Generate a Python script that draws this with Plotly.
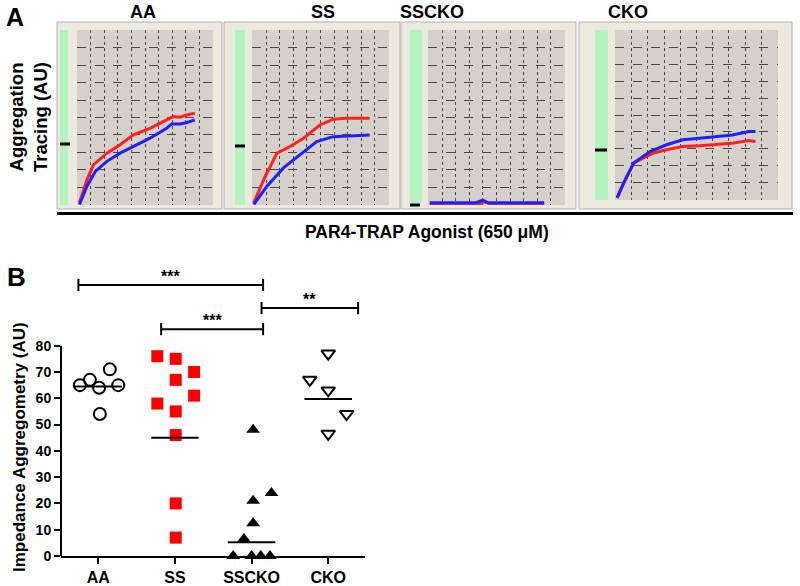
import plotly.graph_objects as go

W, H = 800, 586
FONT = "Liberation Sans, Arial, sans-serif"


def px(x):
    return x / W


def py(y):
    return 1 - y / H


# ---------------- Panel A data (10 time divisions x 10 aggregation divisions) ----------------
a_titles = ["AA", "SS", "SSCKO", "CKO"]

aa_red_t = [0.15, 0.71, 1.2, 2.18, 3.16, 4.14, 5.37, 6.6, 7.08, 7.57, 8.06, 8.68]
aa_red_v = [0.1, 1.43, 2.29, 2.95, 3.43, 4.0, 4.38, 4.86, 5.05, 5.01, 5.14, 5.24]
aa_blue_t = [0.15, 0.71, 1.32, 2.18, 3.16, 4.14, 5.37, 6.6, 6.96, 7.57, 8.06, 8.68]
aa_blue_v = [0.0, 1.05, 1.9, 2.48, 2.95, 3.33, 3.81, 4.38, 4.63, 4.63, 4.7, 4.86]

ss_red_t = [0.1, 0.83, 1.8, 2.77, 3.75, 4.96, 5.94, 6.91, 8.61]
ss_red_v = [0.1, 1.43, 2.95, 3.33, 3.81, 4.57, 4.9, 4.95, 4.95]
ss_blue_t = [0.1, 1.07, 2.28, 3.5, 4.72, 5.94, 7.15, 8.61]
ss_blue_v = [0.0, 1.05, 2.1, 2.86, 3.62, 3.9, 3.94, 4.0]

sscko_red_t = [0.1, 3.8, 4.1, 4.5, 8.5]
sscko_red_v = [0.05, 0.05, 0.15, 0.05, 0.05]
sscko_blue_t = [0.1, 3.5, 4.0, 4.4, 8.5]
sscko_blue_v = [0.1, 0.1, 0.25, 0.1, 0.1]

cko_red_t = [0.1, 0.51, 1.12, 1.52, 2.34, 3.15, 4.16, 5.18, 6.2, 7.21, 8.23, 8.64]
cko_red_v = [0.1, 0.98, 2.16, 2.35, 2.75, 2.94, 3.14, 3.18, 3.24, 3.33, 3.49, 3.43]
cko_blue_t = [0.1, 0.51, 1.12, 2.13, 3.15, 4.16, 5.18, 6.2, 7.21, 8.23, 8.64]
cko_blue_v = [0.1, 0.98, 2.16, 2.84, 3.24, 3.53, 3.63, 3.73, 3.82, 4.02, 4.02]

a_red = [(aa_red_t, aa_red_v), (ss_red_t, ss_red_v), (sscko_red_t, sscko_red_v), (cko_red_t, cko_red_v)]
a_blue = [(aa_blue_t, aa_blue_v), (ss_blue_t, ss_blue_v), (sscko_blue_t, sscko_blue_v), (cko_blue_t, cko_blue_v)]

# ---------------- Panel B data ----------------
b_categories = ["AA", "SS", "SSCKO", "CKO"]
aa_values = [65, 67, 64, 71, 65, 54]
aa_jitter = [-0.24, -0.11, 0.01, 0.15, 0.26, 0.02]
ss_values = [76, 75, 70, 67, 61, 58, 55, 46, 20, 7]
ss_jitter = [-0.23, 0.01, 0.25, 0.01, 0.25, -0.23, 0.01, 0.01, 0.01, 0.01]
sscko_values = [48, 24, 21, 12.5, 6.5, 0, 0, 0, 0]
sscko_jitter = [0.02, 0.26, 0.02, 0.02, -0.1, -0.24, 0.0, 0.12, 0.24]
cko_values = [77, 67, 63, 54, 46.5]
cko_jitter = [0.0, -0.24, 0.0, 0.24, 0.0]
b_medians = [64.5, 45, 5.2, 59.7]
y_ticks = [0, 10, 20, 30, 40, 50, 60, 70, 80]

bracket_x0 = [-0.26, 0.82, 2.13]
bracket_x1 = [2.15, 2.15, 3.39]
bracket_level = [103.1, 86.3, 94.3]
bracket_label = ["***", "***", "**"]

# ---------------- layout geometry (pixels) ----------------
grid_px = [(77, 213, 30, 205), (252, 389, 30, 205), (428, 565, 30, 205), (615, 778, 30, 200)]
panel_px = [(57, 222), (224, 400), (401, 576), (579, 792)]
green_px = [(60, 68, 30, 205), (235, 245, 30, 205), (410, 422, 30, 203), (595, 608, 30, 200)]
dash_px = [(60, 70, 144), (235, 245, 146), (410, 420, 205), (595, 607, 150)]
title_x_px = [143, 323, 432, 628]

fig = go.Figure()
shapes = []
annotations = []
RED = "#ff1f1f"
BLUE = "#1f1fff"


def label(text, x, y, size, angle=0):
    return dict(text="<b>%s</b>" % text, xref="paper", yref="paper", x=px(x), y=py(y),
                xanchor="center", yanchor="middle", showarrow=False, textangle=angle,
                font=dict(size=size, color="black", family=FONT))


for i in range(4):
    n = "" if i == 0 else str(i + 1)
    xa, ya = "x" + n, "y" + n
    gx0, gx1, gy0, gy1 = grid_px[i]
    fig.update_layout(**{
        "xaxis" + n: dict(domain=[px(gx0), px(gx1)], range=[-0.03, 10.03], dtick=1, tick0=0,
                          showticklabels=False, ticks="", showgrid=True, gridcolor="#4a4a4a",
                          gridwidth=1, griddash="dot", zeroline=False, showline=False,
                          anchor=ya, fixedrange=True, automargin=False),
        "yaxis" + n: dict(domain=[py(gy1), py(gy0)], range=[-0.03, 10.03], dtick=1, tick0=0,
                          showticklabels=False, ticks="", showgrid=True, gridcolor="#4a4a4a",
                          gridwidth=1, griddash="dash", zeroline=False, showline=False,
                          anchor=xa, fixedrange=True, automargin=False),
    })
    p0, p1 = panel_px[i]
    shapes.append(dict(type="rect", xref="paper", yref="paper", x0=px(p0), x1=px(p1),
                       y0=py(209), y1=py(22), fillcolor="#ece9de", line=dict(color="#b5b3ab", width=1),
                       layer="below"))
    g0, g1, gg0, gg1 = green_px[i]
    shapes.append(dict(type="rect", xref="paper", yref="paper", x0=px(g0), x1=px(g1),
                       y0=py(gg1), y1=py(gg0), fillcolor="#b3f3c0", line=dict(width=0), layer="below"))
    shapes.append(dict(type="rect", xref="paper", yref="paper", x0=px(gx0), x1=px(gx1),
                       y0=py(gy1), y1=py(gy0), fillcolor="#d5d1ca", line=dict(width=0), layer="below"))
    d0, d1, dy = dash_px[i]
    shapes.append(dict(type="line", xref="paper", yref="paper", x0=px(d0), x1=px(d1),
                       y0=py(dy), y1=py(dy), line=dict(color="black", width=3)))
    rt, rv = a_red[i]
    bt, bv = a_blue[i]
    fig.add_trace(go.Scatter(x=rt, y=rv, xaxis=xa, yaxis=ya, mode="lines",
                             line=dict(color=RED, width=3), showlegend=False, hoverinfo="skip"))
    fig.add_trace(go.Scatter(x=bt, y=bv, xaxis=xa, yaxis=ya, mode="lines",
                             line=dict(color=BLUE, width=3), showlegend=False, hoverinfo="skip"))
    annotations.append(label(a_titles[i], title_x_px[i], 12, 18))

# black bar beneath panel A
shapes.append(dict(type="line", xref="paper", yref="paper", x0=px(57), x1=px(793),
                   y0=py(213.5), y1=py(213.5), line=dict(color="black", width=3)))

annotations += [
    label("A", 15, 17, 25),
    label("Aggregation<br>Tracing (AU)", 29, 117, 18.5, -90),
    label("PAR4-TRAP Agonist (650 μM)", 427, 232, 17.5),
    label("B", 16, 277, 26),
    label("Impedance Aggregometry (AU)", 19, 447, 17, -90),
]

# ---------------- Panel B axes ----------------
bx_dom = [px(61), px(365)]
by_dom = [py(556), py(262)]
bx_rng = [-0.487, 3.48]
by_rng = [0, 80 * (556 - 262) / (556 - 345.7)]


def bx(v):
    return bx_dom[0] + (v - bx_rng[0]) / (bx_rng[1] - bx_rng[0]) * (bx_dom[1] - bx_dom[0])


def by(v):
    return by_dom[0] + (v - by_rng[0]) / (by_rng[1] - by_rng[0]) * (by_dom[1] - by_dom[0])


fig.update_layout(
    xaxis5=dict(domain=bx_dom, range=bx_rng, tickvals=list(range(4)), ticktext=b_categories,
                ticks="outside", ticklen=6, tickwidth=2, tickcolor="black", showline=True,
                linewidth=2, linecolor="black", showgrid=False, zeroline=False, anchor="y5",
                tickfont=dict(size=16, color="black", family=FONT, weight="bold"), fixedrange=True,
                automargin=False),
    yaxis5=dict(domain=by_dom, range=by_rng, tickvals=y_ticks, ticks="outside", ticklen=6,
                tickwidth=2, tickcolor="black", showline=False, showgrid=False, zeroline=False,
                anchor="x5", tickfont=dict(size=14, color="black", family=FONT, weight="bold"),
                fixedrange=True, automargin=False),
)
shapes.append(dict(type="line", xref="paper", yref="paper", x0=bx(bx_rng[0]), x1=bx(bx_rng[0]),
                   y0=by(0), y1=by(y_ticks[-1]), line=dict(color="black", width=2)))

groups = [
    (aa_values, aa_jitter, dict(symbol="circle-open", size=12, color="black", line=dict(width=2, color="black"))),
    (ss_values, ss_jitter, dict(symbol="square", size=12, color="#ff0000", line=dict(width=0))),
    (sscko_values, sscko_jitter, dict(symbol="triangle-up", size=12, color="black", line=dict(width=0))),
    (cko_values, cko_jitter, dict(symbol="triangle-down-open", size=12, color="black", line=dict(width=2, color="black"))),
]
for gi, (vals, jit, mk) in enumerate(groups):
    fig.add_trace(go.Scatter(x=[gi + j for j in jit], y=vals, mode="markers", marker=mk,
                             xaxis="x5", yaxis="y5", cliponaxis=False, showlegend=False,
                             hoverinfo="y"))
    fig.add_trace(go.Scatter(x=[gi - 0.31, gi + 0.31], y=[b_medians[gi]] * 2, mode="lines",
                             line=dict(color="black", width=2), xaxis="x5", yaxis="y5",
                             cliponaxis=False, showlegend=False, hoverinfo="skip"))

tick_half = 2.3
for k in range(len(bracket_label)):
    x0, x1, lv = bracket_x0[k], bracket_x1[k], bracket_level[k]
    shapes.append(dict(type="line", xref="paper", yref="paper", x0=bx(x0), x1=bx(x1),
                       y0=by(lv), y1=by(lv), line=dict(color="black", width=2)))
    for xe in (x0, x1):
        shapes.append(dict(type="line", xref="paper", yref="paper", x0=bx(xe), x1=bx(xe),
                           y0=by(lv - tick_half), y1=by(lv + tick_half), line=dict(color="black", width=2)))
    annotations.append(dict(text="<b>%s</b>" % bracket_label[k], xref="x5", yref="y5",
                            x=(x0 + x1) / 2, y=lv, xanchor="center", yanchor="bottom", yshift=-2,
                            showarrow=False, font=dict(size=16, color="black", family=FONT)))

fig.update_layout(
    width=W, height=H, autosize=False,
    margin=dict(l=0, r=0, t=0, b=0, pad=0),
    paper_bgcolor="white", plot_bgcolor="rgba(0,0,0,0)",
    shapes=shapes, annotations=annotations,
    font=dict(family=FONT, color="black"),
    showlegend=False,
)

fig.write_html("out.html", config={"displayModeBar": False},
               post_script="document.body.style.margin='0px';document.body.style.overflow='hidden';")
